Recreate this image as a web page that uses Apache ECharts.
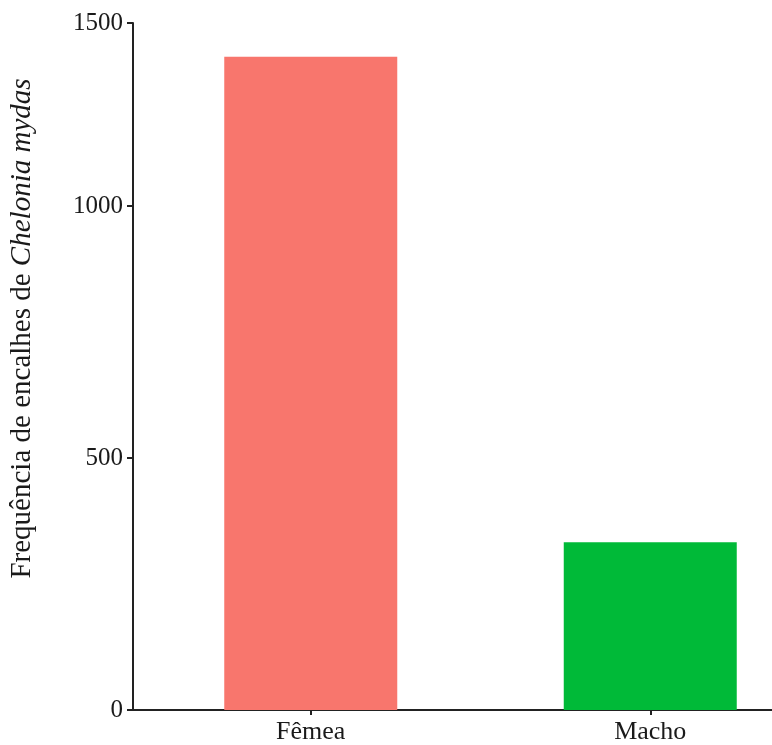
<!DOCTYPE html>
<html>
<head>
<meta charset="utf-8">
<script src="https://cdn.jsdelivr.net/npm/echarts@6/dist/echarts.min.js"></script>
<style>
html,body{margin:0;padding:0;background:#fff;}
#chart{width:772px;height:745px;}
</style>
</head>
<body>
<div id="chart"></div>
<script>
const categories = ['Fêmea', 'Macho'];
const counts = [1296, 333];
const barColors = ['#F8766D', '#00BA38'];
// axis top as drawn in the reference, and the tick labels it shows
const yTop = 1363;
const yTickValues = [0, 500, 1000, yTop];
const yTickLabels = ['0', '500', '1000', '1500'];

const chart = echarts.init(document.getElementById('chart'), null, {renderer: 'canvas'});
const font = 'Liberation Serif, Times New Roman, serif';
chart.setOption({
  animation: false,
  backgroundColor: '#ffffff',
  grid: {left: 141, width: 679, top: 23, height: 687, containLabel: false, outerBoundsMode: 'none'},
  xAxis: {
    type: 'category',
    data: categories,
    boundaryGap: true,
    axisLine: {show: true, symbol: ['rect', 'none'], symbolSize: [2, 17], lineStyle: {color: '#222', width: 2}},
    axisTick: {show: true, alignWithLabel: true, length: 5, lineStyle: {color: '#222', width: 2}},
    axisLabel: {color: '#1a1a1a', fontFamily: font, fontSize: 26, margin: 9}
  },
  yAxis: {
    type: 'value',
    min: 0,
    max: yTop,
    interval: 500,
    offset: 8,
    splitLine: {show: false},
    axisLine: {show: true, lineStyle: {color: '#222', width: 2}},
    axisTick: {show: true, length: 6, lineStyle: {color: '#222', width: 2}},
    axisLabel: {
      color: '#1a1a1a', fontFamily: font, fontSize: 25, margin: 10,
      showMaxLabel: true,
      formatter: function (v) {
        const i = yTickValues.indexOf(v);
        return i >= 0 ? yTickLabels[i] : '';
      }
    },
    name: 'Frequência de encalhes de {i|Chelonia mydas}',
    nameLocation: 'middle',
    nameRotate: 90,
    nameGap: 96,
    nameTextStyle: {
      color: '#1a1a1a', fontFamily: font, fontSize: 29,
      padding: [0, 0, 0, 76],
      rich: {i: {fontStyle: 'italic', fontFamily: font, fontSize: 29, color: '#1a1a1a'}}
    }
  },
  series: [{
    type: 'bar',
    barWidth: 173,
    data: counts.map((v, i) => ({value: v, itemStyle: {color: barColors[i]}}))
  }]
});
</script>
</body>
</html>
